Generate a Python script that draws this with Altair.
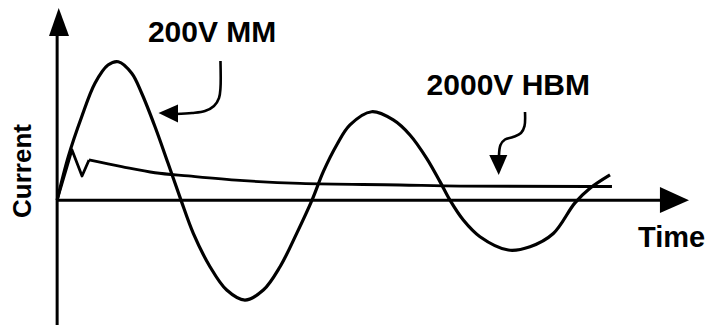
import altair as alt
import pandas as pd

# Scale domains (time in arbitrary units, current in % of MM peak)
T_DOMAIN = [-9.0, 103.0]
I_DOMAIN = [-92.0, 144.0]

# 200 V machine-model discharge: damped ringing current
mm_time = [0, 1.76, 3.87, 5.96, 8.01, 9.63, 11.75, 13.32, 15.42, 17.46, 19.51,
           21.45, 24.08, 26.71, 29.59, 32.48, 35.11, 37.74, 40.15, 41.93, 44.04,
           46.13, 49.55, 52.95, 55.58, 58.21, 60.31, 61.88, 63.98, 66.61, 71.07,
           74.49, 78.16, 81.57, 83.94, 87.09]
mm_current = [0, 31.3, 60.0, 84.1, 97.2, 99.6, 91.3, 76.9, 52.8, 26.7, 0,
              -23.9, -47.9, -64.7, -71.9, -64.7, -47.9, -23.9, 0, 20.5, 39.7,
              54.1, 63.6, 57.7, 46.9, 30.1, 13.3, 0, -14.3, -26.3, -35.9,
              -33.5, -24.0, -2.0, 8.5, 18.1]

# 2000 V human-body-model discharge: fast spike ...
hbm_spike_time = [0, 2.34, 3.92, 5.02]
hbm_spike_current = [0, 36.1, 17.4, 28.9]
# ... then slow decay
hbm_decay_time = [5.02, 10.17, 15.42, 20.66, 28.8, 38.26, 54.0, 63.5, 87.4]
hbm_decay_current = [28.9, 24.1, 19.7, 17.4, 14.2, 12.0, 10.9, 10.1, 9.8]

# Axis lines (start/end)
axis_t = [0, 0]
axis_i = [-89.8, 0]
axis_t2 = [0, 95.5]
axis_i2 = [119.0, 0]

# Curved leader lines from the labels to the curves
mm_leader_t = [25.73, 25.73, 25.50, 24.71, 23.29, 21.24, 18.72]
mm_leader_i = [100.1, 80.7, 73.5, 67.7, 64.1, 62.7, 62.0]
hbm_leader_t = [73.70, 73.62, 73.07, 71.81, 70.55, 69.84, 69.60]
hbm_leader_i = [63.4, 53.3, 48.3, 45.4, 43.6, 39.7, 31.8]

# Arrowheads pointing left/right (x, y-range)
head_h_name = ["time_axis", "time_axis", "mm", "mm"]
head_h_t = [94.96, 99.53, 15.97, 19.04]
head_h_i = [9.45, 0.0, 62.7, 68.8]
head_h_i2 = [-9.25, 0.0, 62.7, 55.9]

# Arrowheads pointing up/down (y, x-range)
head_v_name = ["current_axis", "current_axis", "hbm", "hbm"]
head_v_i = [118.1, 138.2, 32.5, 18.1]
head_v_t = [-1.28, 0.25, 68.07, 69.56]
head_v_t2 = [1.87, 0.25, 70.91, 69.56]

# Labels
label_text = ["200V MM", "2000V HBM", "Time"]
label_t = [14.3, 58.2, 91.5]
label_i = [113.8, 75.6, -33.7]
label_size = [30, 30, 29]

ylabel_text = ["Current"]
ylabel_t = [-4.04]
ylabel_i = [21.0]

FONT = "Liberation Sans, Arial, Helvetica, sans-serif"
INK = "#000000"


def xs(field="t", stack=False):
    kw = {"stack": None} if stack else {}
    return alt.X(f"{field}:Q", scale=alt.Scale(domain=T_DOMAIN, nice=False, zero=False), axis=None, **kw)


def ys(field="i", stack=False):
    kw = {"stack": None} if stack else {}
    return alt.Y(f"{field}:Q", scale=alt.Scale(domain=I_DOMAIN, nice=False, zero=False), axis=None, **kw)


axes = alt.Chart(pd.DataFrame({"t": axis_t, "i": axis_i, "t2": axis_t2, "i2": axis_i2})).mark_rule(
    color=INK, strokeWidth=3
).encode(x=xs(), y=ys(), x2="t2:Q", y2="i2:Q")

mm = alt.Chart(pd.DataFrame({"t": mm_time, "i": mm_current, "k": list(range(len(mm_time)))})).mark_line(
    color=INK, strokeWidth=3.2, interpolate="catmull-rom"
).encode(x=xs(), y=ys(), order="k:Q")

hbm_spike = alt.Chart(pd.DataFrame({"t": hbm_spike_time, "i": hbm_spike_current})).mark_line(
    color=INK, strokeWidth=2.8, interpolate="linear", strokeJoin="round"
).encode(x=xs(), y=ys())

hbm_decay = alt.Chart(pd.DataFrame({"t": hbm_decay_time, "i": hbm_decay_current})).mark_line(
    color=INK, strokeWidth=2.8, interpolate="monotone"
).encode(x=xs(), y=ys())

leaders_df = pd.DataFrame({
    "name": ["mm"] * len(mm_leader_t) + ["hbm"] * len(hbm_leader_t),
    "k": list(range(len(mm_leader_t))) + list(range(len(hbm_leader_t))),
    "t": mm_leader_t + hbm_leader_t,
    "i": mm_leader_i + hbm_leader_i,
})
leaders = alt.Chart(leaders_df).mark_line(
    color=INK, strokeWidth=2.6, interpolate="catmull-rom"
).encode(x=xs(), y=ys(), detail="name:N", order="k:Q")

heads_h = alt.Chart(pd.DataFrame({
    "name": head_h_name, "t": head_h_t, "i": head_h_i, "i2": head_h_i2
})).mark_area(color=INK, orient="vertical", opacity=1).encode(
    x=xs(), y=ys(stack=True), y2="i2:Q", detail="name:N"
)

heads_v = alt.Chart(pd.DataFrame({
    "name": head_v_name, "t": head_v_t, "t2": head_v_t2, "i": head_v_i
})).mark_area(color=INK, orient="horizontal", opacity=1).encode(
    x=xs(stack=True), x2="t2:Q", y=ys(), detail="name:N"
)

labels = alt.Chart(pd.DataFrame({
    "label": label_text, "t": label_t, "i": label_i, "size": label_size
})).mark_text(
    align="left", baseline="alphabetic", font=FONT, fontWeight="bold", color=INK
).encode(x=xs(), y=ys(), text="label:N", size=alt.Size("size:Q", scale=None, legend=None))

ylabel = alt.Chart(pd.DataFrame({"label": ylabel_text, "t": ylabel_t, "i": ylabel_i})).mark_text(
    align="center", baseline="alphabetic", angle=270,
    font=FONT, fontWeight="bold", fontSize=26, color=INK
).encode(x=xs(), y=ys(), text="label:N")

chart = alt.layer(axes, mm, hbm_spike, hbm_decay, leaders, heads_h, heads_v, labels, ylabel).properties(
    width=711, height=328, padding=0, autosize=alt.AutoSizeParams(type="none"),
    background="white"
).configure_view(stroke=None)

chart.save("out.html", embed_options={"renderer": "svg", "actions": False})
